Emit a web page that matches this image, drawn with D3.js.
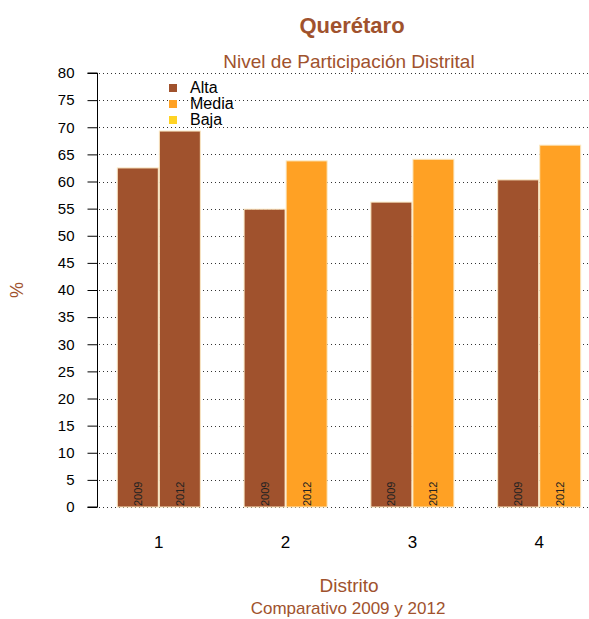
<!DOCTYPE html>
<meta charset="utf-8">
<html>
  <head>
    <style>
      body { margin: 0; background: #fff; }
      text { font-family: "Liberation Sans", Arial, sans-serif; }
      .grid line { stroke: #333; stroke-dasharray: 1,3; stroke-width: 1px; }
      .brown { fill: #A0522D; }
    </style>
    <script src="https://d3js.org/d3.v7.min.js"></script>
  </head>
  <body>
    <script>
      // data
      var districts = ["1", "2", "3", "4"];
      var years = ["2009", "2012"];
      var pct2009 = [62.5, 54.9, 56.2, 60.3];
      var pct2012 = [69.3, 63.8, 64.1, 66.7];
      var level2009 = ["Alta", "Alta", "Alta", "Alta"];
      var level2012 = ["Alta", "Media", "Media", "Media"];
      var levels = ["Alta", "Media", "Baja"];
      var yTicks = d3.range(0, 81, 5);

      var width = 589, height = 619;
      var brown = "#A0522D";

      var svg = d3.select("body").append("svg")
          .attr("width", width)
          .attr("height", height);

      var color = d3.scaleOrdinal()
          .domain(levels)
          .range([brown, "#FFA124", "#FFD324"]);

      var y = d3.scaleLinear().domain([0, 80]).range([507, 73]);

      var x = d3.scaleBand()
          .domain(districts)
          .range([97, 601])
          .paddingInner(0.345)
          .paddingOuter(0.16);

      var xYear = d3.scaleBand()
          .domain(years)
          .range([0, x.bandwidth()])
          .paddingInner(0.025);

      // dotted grid
      svg.append("g").attr("class", "grid")
        .selectAll("line")
        .data(yTicks)
        .enter().append("line")
          .attr("x1", 99).attr("x2", 589)
          .attr("y1", function(d) { return Math.round(y(d)) + 0.5; })
          .attr("y2", function(d) { return Math.round(y(d)) + 0.5; });

      // bars
      var rows = [];
      districts.forEach(function(d, i) {
        rows.push({ d: d, year: "2009", v: pct2009[i], lvl: level2009[i] });
        rows.push({ d: d, year: "2012", v: pct2012[i], lvl: level2012[i] });
      });

      var bars = svg.append("g").selectAll("g")
          .data(rows)
          .enter().append("g")
          .attr("transform", function(r) { return "translate(" + (x(r.d) + xYear(r.year)) + ",0)"; });

      bars.append("rect")
          .attr("x", 0)
          .attr("y", function(r) { return y(r.v); })
          .attr("width", xYear.bandwidth())
          .attr("height", function(r) { return y(0) - y(r.v); })
          .attr("fill", function(r) { return color(r.lvl); })
          .attr("stroke", "#FBE9C4")
          .attr("stroke-width", 1);

      bars.append("text")
          .attr("transform", "translate(" + (xYear.bandwidth() / 2 + 4) + "," + (y(0) - 1) + ")rotate(-90)")
          .style("font-size", "11px")
          .attr("fill", "#222")
          .text(function(r) { return r.year; });

      // y axis
      var yAxis = d3.axisLeft(y).tickValues(yTicks).tickSize(10).tickPadding(13);
      var gy = svg.append("g")
          .attr("transform", "translate(97.5,0)")
          .call(yAxis);
      gy.select(".domain").attr("d", "M-10," + y(80) + "H0V" + y(0) + "H-10").attr("stroke", "#000");
      gy.selectAll(".tick line").attr("stroke", "#000");
      gy.selectAll("text").style("font-size", "15px").style("font-family", "Liberation Sans, Arial, sans-serif").attr("fill", "#000");

      // x labels
      svg.append("g").selectAll("text")
          .data(districts)
          .enter().append("text")
          .attr("x", function(d) { return x(d) + x.bandwidth() / 2; })
          .attr("y", 548)
          .attr("text-anchor", "middle")
          .style("font-size", "17px")
          .text(function(d) { return d; });

      // titles
      svg.append("text").attr("class", "brown")
          .attr("x", 352).attr("y", 33)
          .attr("text-anchor", "middle")
          .style("font-size", "22px").style("font-weight", "bold")
          .text("Querétaro");
      svg.append("text").attr("class", "brown")
          .attr("x", 349).attr("y", 68)
          .attr("text-anchor", "middle")
          .style("font-size", "19px")
          .text("Nivel de Participación Distrital");
      svg.append("text").attr("class", "brown")
          .attr("x", 349).attr("y", 592)
          .attr("text-anchor", "middle")
          .style("font-size", "19px")
          .text("Distrito");
      svg.append("text").attr("class", "brown")
          .attr("x", 348).attr("y", 614)
          .attr("text-anchor", "middle")
          .style("font-size", "17px")
          .text("Comparativo 2009 y 2012");
      svg.append("text").attr("class", "brown")
          .attr("transform", "translate(23,290)rotate(-90)")
          .attr("text-anchor", "middle")
          .style("font-size", "18px")
          .text("%");

      // legend
      var lg = svg.append("g").selectAll("g")
          .data(levels)
          .enter().append("g")
          .attr("transform", function(d, i) { return "translate(169," + (88 + i * 16) + ")"; });
      lg.append("rect")
          .attr("x", 0).attr("y", -4)
          .attr("width", 8).attr("height", 8)
          .attr("fill", function(d) { return color(d); });
      lg.append("text")
          .attr("x", 21).attr("y", 5)
          .style("font-size", "16px")
          .text(function(d) { return d; });
    </script>
  </body>
</html>
